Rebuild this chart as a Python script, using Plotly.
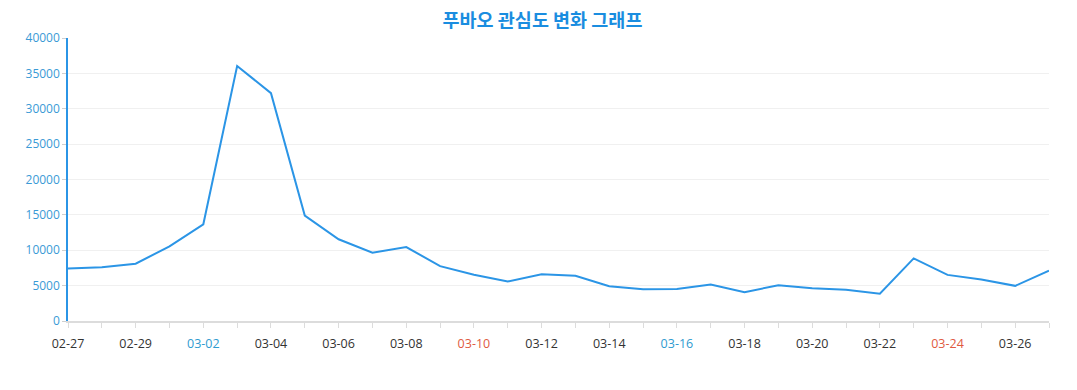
import plotly.graph_objects as go
import datetime as dt

# ---- data ----
dates = ["02-27", "02-28", "02-29", "03-01", "03-02", "03-03", "03-04", "03-05",
         "03-06", "03-07", "03-08", "03-09", "03-10", "03-11", "03-12", "03-13",
         "03-14", "03-15", "03-16", "03-17", "03-18", "03-19", "03-20", "03-21",
         "03-22", "03-23", "03-24", "03-25", "03-26", "03-27"]
interest = [7420, 7610, 8100, 10550, 13670, 36050, 32200, 14900,
            11550, 9650, 10450, 7760, 6550, 5580, 6600, 6400,
            4920, 4500, 4540, 5150, 4070, 5060, 4640, 4420,
            3850, 8850, 6520, 5870, 4970, 7100]
year = 2024
title = "푸바오 관심도 변화 그래프"
y_ticks = [0, 5000, 10000, 15000, 20000, 25000, 30000, 35000, 40000]

# ---- styling ----
BLUE = "#2b95e6"
LABEL_BLUE = "#3a9ad6"
SAT = "#2f9bd0"
SUN = "#e05a3f"
TXT = "#333333"

x_idx = list(range(len(dates)))

def label(i, d):
    if i % 2:
        return ""
    m, day = map(int, d.split("-"))
    wd = dt.date(year, m, day).weekday()
    col = SAT if wd == 5 else SUN if wd == 6 else TXT
    return f'<span style="color:{col}">{d}</span>'

ticktext = [label(i, d) for i, d in enumerate(dates)]

fig = go.Figure()
fig.add_trace(go.Scatter(
    x=x_idx, y=interest, mode="lines",
    line=dict(color=BLUE, width=2),
    hoverinfo="y",
))

fig.update_layout(
    width=1069, height=382,
    margin=dict(l=60, r=28, t=30, b=69),
    paper_bgcolor="white", plot_bgcolor="white",
    showlegend=False,
    font=dict(family="Open Sans, Noto Sans CJK KR, sans-serif", size=12, color=TXT),
    title=dict(
        text=f"<b>{title}</b>",
        x=0.5, xanchor="center", y=1 - 13 / 382, yanchor="middle",
        font=dict(family="Noto Sans CJK KR, sans-serif", size=18.5, color="#1a8de0"),
    ),
    xaxis=dict(
        range=[0, len(dates) - 1],
        tickmode="array", tickvals=x_idx, ticktext=ticktext,
        showgrid=False, zeroline=False,
        showline=True, linecolor="#dcdcdc", linewidth=2,
        ticks="outside", ticklen=5, tickcolor="#dcdcdc", tickwidth=1,
        ticklabelstandoff=5,
        tickfont=dict(size=12.5, color=TXT),
    ),
    yaxis=dict(
        range=[0, 40000],
        tickmode="array", tickvals=y_ticks, ticktext=[str(v) for v in y_ticks],
        showgrid=True, gridcolor="#f0f0f0", gridwidth=1,
        zeroline=False,
        showline=True, linecolor=BLUE, linewidth=1.5,
        ticks="outside", ticklen=4, tickcolor="#cfcfcf",
        tickfont=dict(size=12, color=LABEL_BLUE),
    ),
)

fig.write_html("out.html")
